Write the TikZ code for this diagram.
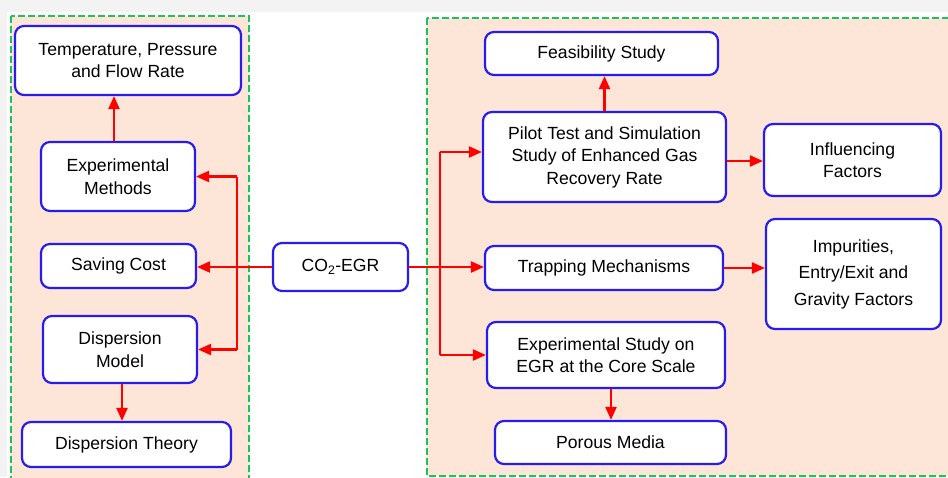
\documentclass[tikz,border=0pt]{standalone}
\usepackage{fontspec}
\setmainfont{Liberation Sans}
\usetikzlibrary{arrows.meta}
\definecolor{panelfill}{RGB}{253,229,216}
\definecolor{panelline}{RGB}{24,196,92}
\definecolor{boxline}{RGB}{40,28,236}
\definecolor{stripgray}{RGB}{243,243,243}
\tikzset{
  box/.style={draw=boxline, line width=2.2pt, fill=white, rounded corners=9pt,
    align=center, inner sep=2pt, font=\fontsize{17.6}{22.5}\selectfont},
  panel/.style={fill=panelfill, draw=panelline, line width=2pt,
    dash pattern=on 7pt off 3pt},
  arr/.style={draw=red, line width=2.2pt, -{Triangle[length=13pt,width=11pt]}},
  link/.style={draw=red, line width=2.2pt}
}
\begin{document}
\begin{tikzpicture}[x=1pt,y=-1pt]
\useasboundingbox (0,0) rectangle (948,477);
\begin{scope}
\clip (0,0) rectangle (948,477);
% page background
\fill[white] (0,0) rectangle (948,477);
\fill[stripgray] (0,0) rectangle (948,12);
\fill[stripgray] (0,0) rectangle (7,477);
% dashed panels
\path[panel] (11,16) rectangle (249,490);
\path[panel] (427,17.5) rectangle (960,475.5);

% left branch
\node[box, minimum width=226pt, minimum height=69pt] (temp) at (128,60.5) {Temperature, Pressure\\and Flow Rate};
\node[box, minimum width=154pt, minimum height=69pt] (expm) at (118,176.5) {Experimental\\Methods};
\node[box, minimum width=155pt, minimum height=44pt] (save) at (118.5,266) {Saving Cost};
\node[box, minimum width=154pt, minimum height=67pt] (dmod) at (120,349.5) {Dispersion\\Model};
\node[box, minimum width=209pt, minimum height=45pt] (dthe) at (126.5,444.5) {Dispersion Theory};

% centre
\node[box, minimum width=135pt, minimum height=48pt] (co2) at (340.5,267) {CO\textsubscript{2}-EGR};

% right branch
\node[box, minimum width=233pt, minimum height=43pt] (feas) at (601.5,53.5) {Feasibility Study};
\node[box, minimum width=243pt, minimum height=90pt] (pilot) at (604.5,157) {Pilot Test and Simulation\\Study of Enhanced Gas\\Recovery Rate};
\node[box, minimum width=177pt, minimum height=72pt] (infl) at (852.5,160) {Influencing\\Factors};
\node[box, minimum width=238pt, minimum height=44pt] (trap) at (604,268) {Trapping Mechanisms};
\node[box, minimum width=175pt, minimum height=110pt, font=\fontsize{17.6}{26.5}\selectfont] (imp) at (853.5,274) {Impurities,\\Entry/Exit and\\Gravity Factors};
\node[box, minimum width=238pt, minimum height=66pt] (exps) at (606,355) {Experimental Study on\\EGR at the Core Scale};
\node[box, minimum width=231pt, minimum height=43pt] (poro) at (610.5,442.5) {Porous Media};

% junctions of the forked connectors and arrow landing points
\coordinate (jl) at (237,267);
\coordinate (jr) at (440,267);
\coordinate (pilotin) at ([yshift=5pt]pilot.west);
\coordinate (pilotout) at ([yshift=-4pt]pilot.east);

% left connectors
\draw[arr] (co2.west) -- (co2.west -| save.east);
\draw[link] (jl) -- (jl |- expm.east);
\draw[arr] (jl |- expm.east) -- (expm.east);
\draw[link] (jl) -- (jl |- dmod.east);
\draw[arr] (jl |- dmod.east) -- (dmod.east);
\draw[arr] ([xshift=-4pt]expm.north) -- ([xshift=-4pt]expm.north |- temp.south);
\draw[arr] ([xshift=2pt]dmod.south) -- ([xshift=2pt]dmod.south |- dthe.north);

% right connectors
\draw[arr] (co2.east) -- (co2.east -| trap.west);
\draw[link] (jr) -- (jr |- pilotin);
\draw[arr] (jr |- pilotin) -- (pilotin);
\draw[link] (jr) -- (jr |- exps.west);
\draw[arr] (jr |- exps.west) -- (exps.west);
\draw[arr] (pilot.north) -- (pilot.north |- feas.south);
\draw[arr] (pilotout) -- (pilotout -| infl.west);
\draw[arr] (trap.east) -- (trap.east -| imp.west);
\draw[arr] ([xshift=5pt]exps.south) -- ([xshift=5pt]exps.south |- poro.north);
\end{scope}
\end{tikzpicture}
\end{document}
